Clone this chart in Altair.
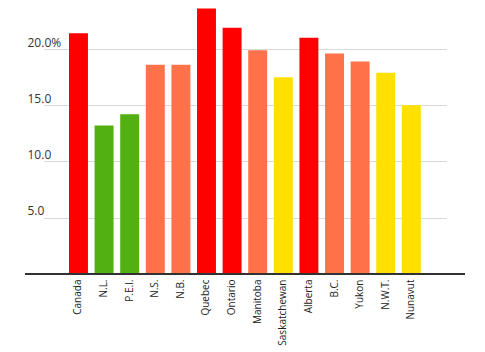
import altair as alt
import pandas as pd

regions = ["Canada", "N.L.", "P.E.I.", "N.S.", "N.B.", "Quebec", "Ontario", "Manitoba",
           "Saskatchewan", "Alberta", "B.C.", "Yukon", "N.W.T.", "Nunavut"]
values = [21.4, 13.2, 14.2, 18.6, 18.6, 23.6, 21.9, 19.9, 17.5, 21.0, 19.6, 18.9, 17.9, 15.0]
colors = ["#ff0000", "#52b012", "#52b012", "#ff7148", "#ff7148", "#ff0000", "#ff0000", "#ff7148",
          "#ffe000", "#ff0000", "#ff7148", "#ff7148", "#ffe000", "#ffe000"]

df = pd.DataFrame({"region": regions, "value": values, "color": colors})

W, H = 440, 270

bars = alt.Chart(df).mark_bar().encode(
    x=alt.X("region:N", sort=regions,
            scale=alt.Scale(paddingInner=0.26, paddingOuter=1, range=[18.4, 421.4]),
            axis=alt.Axis(title=None, labelAngle=-90, labelAlign="right", labelBaseline="middle",
                          labelFont="Open Sans", labelFontSize=10, labelColor="#222",
                          labelPadding=5, ticks=False, domain=False, grid=False)),
    y=alt.Y("value:Q", scale=alt.Scale(domain=[0, 24], nice=False),
            axis=alt.Axis(title=None, values=[5, 10, 15, 20], domain=False, ticks=False,
                          labelAlign="left", labelBaseline="alphabetic", labelPadding=-2,
                          labelOffset=-3, labelFont="Open Sans", labelFontSize=12,
                          labelColor="#333", gridColor="#d9d9d9", gridWidth=1,
                          labelExpr="datum.value == 20 ? '20.0%' : format(datum.value, '.1f')")),
    color=alt.Color("color:N", scale=None),
)

baseline = alt.Chart(df).mark_rule(color="#333", strokeWidth=1.5).encode(
    x=alt.value(0), x2=alt.value(W), y=alt.value(H)
)

chart = alt.layer(bars, baseline).properties(
    width=W, height=H,
    autosize=alt.AutoSizeParams(type="none"),
    padding={"left": 25, "top": 4, "right": 20, "bottom": 78},
).configure_view(stroke=None)

chart.save("out.html", embed_options={"renderer": "svg", "actions": False})
